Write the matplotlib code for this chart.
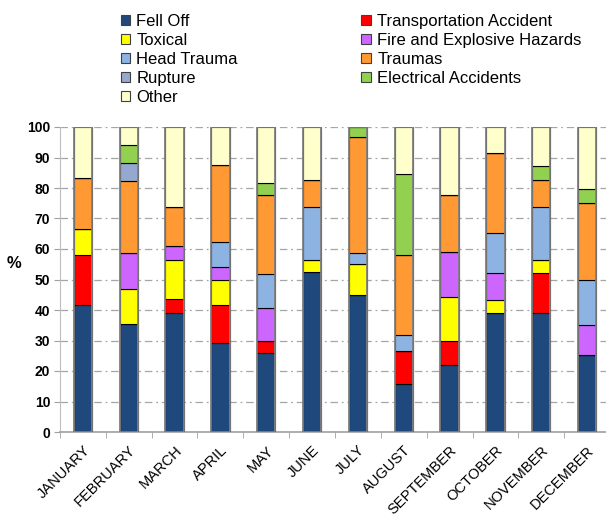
import numpy as np
import matplotlib
matplotlib.use('Agg')
import matplotlib.pyplot as plt
from matplotlib.patches import Patch

plt.rcParams['font.family'] = ['Liberation Sans', 'DejaVu Sans']

months = ['JANUARY', 'FEBRUARY', 'MARCH', 'APRIL', 'MAY', 'JUNE', 'JULY',
          'AUGUST', 'SEPTEMBER', 'OCTOBER', 'NOVEMBER', 'DECEMBER']

# share of each cause per month (%)
fell_off = [41.7, 35.5, 39.0, 29.3, 26.0, 52.3, 45.0, 15.8, 22.1, 39.0, 39.0, 25.1]
transport = [16.4, 0.0, 4.5, 12.4, 3.7, 0.0, 0.0, 10.6, 7.6, 0.0, 13.2, 0.0]
toxical = [8.5, 11.5, 13.0, 8.2, 0.0, 4.2, 10.2, 0.0, 14.7, 4.4, 4.3, 0.0]
fire = [0.0, 11.8, 4.4, 4.3, 11.1, 0.0, 0.0, 0.0, 14.7, 8.8, 0.0, 10.1]
head_trauma = [0.0, 0.0, 0.0, 8.2, 10.9, 17.4, 3.4, 5.3, 0.0, 13.2, 17.4, 14.7]
traumas = [16.8, 23.4, 13.0, 25.3, 26.1, 8.6, 38.0, 26.2, 18.7, 26.0, 8.6, 25.3]
rupture = [0.0, 6.0, 0.0, 0.0, 0.0, 0.0, 0.0, 0.0, 0.0, 0.0, 0.0, 0.0]
electrical = [0.0, 5.9, 0.0, 0.0, 3.9, 0.0, 3.4, 26.6, 0.0, 0.0, 4.6, 4.6]
other = [16.6, 5.9, 26.1, 12.3, 18.3, 17.5, 0.0, 15.5, 22.2, 8.6, 12.9, 20.2]

series = [
    ('Fell Off', fell_off, '#1f497d'),
    ('Transportation Accident', transport, '#ff0000'),
    ('Toxical', toxical, '#ffff00'),
    ('Fire and Explosive Hazards', fire, '#cc66ff'),
    ('Head Trauma', head_trauma, '#8db3e2'),
    ('Traumas', traumas, '#ff9933'),
    ('Rupture', rupture, '#95a8cf'),
    ('Electrical Accidents', electrical, '#92d050'),
    ('Other', other, '#ffffcc'),
]

fig = plt.figure(figsize=(6.06, 5.16), dpi=100)
ax = fig.add_axes([60 / 606, 84 / 516, 550 / 606, 305 / 516])

x = np.arange(len(months))
width = 0.4
bottom = np.zeros(len(months))
handles = {}
for name, vals, color in series:
    vals = np.array(vals)
    ax.bar(x, vals, width, bottom=bottom, color=color, edgecolor='black',
           linewidth=0.8, zorder=3)
    handles[name] = Patch(facecolor=color, edgecolor='#404040', linewidth=0.8)
    bottom += vals

# gray outline around each full column
ax.bar(x, bottom, width, facecolor='none', edgecolor='#808080', linewidth=1.3, zorder=4)

ax.set_xlim(-0.5, 11.5)
ax.set_ylim(0, 100)
ax.set_yticks(range(0, 101, 10))
ax.set_yticklabels([str(v) for v in range(0, 101, 10)], fontweight='bold', fontsize=10)
ax.set_xticks(x)
ax.set_xticklabels(months, rotation=45, ha='right', rotation_mode='anchor', fontsize=10.5)
ax.set_xticks(np.arange(-0.5, 12, 1), minor=True)
ax.tick_params(axis='x', which='major', length=0, pad=8)
ax.tick_params(axis='x', which='minor', length=4, color='#a0a0a0', direction='out')
ax.tick_params(axis='y', length=4, color='#a0a0a0', direction='out', pad=3)

for sp in ['top', 'right']:
    ax.spines[sp].set_visible(False)
ax.spines['left'].set_color('#bfbfbf')
ax.spines['bottom'].set_color('#a0a0a0')
ax.spines['bottom'].set_linewidth(1.2)

ax.yaxis.grid(True, linestyle=(0, (6, 3, 1.5, 3)), color='#a6a6a6', linewidth=0.9, zorder=0)
ax.set_axisbelow(True)

fig.text(14 / 606, 1 - 263 / 516, '%', fontsize=12, fontweight='bold', ha='center', va='center')

order = ['Fell Off', 'Toxical', 'Head Trauma', 'Rupture', 'Other',
         'Transportation Accident', 'Fire and Explosive Hazards', 'Traumas', 'Electrical Accidents']
leg = fig.legend([handles[n] for n in order], order, ncol=2, loc='upper left',
                 bbox_to_anchor=(109 / 606, 1 - 2 / 516), frameon=False, fontsize=12,
                 handlelength=0.55, handleheight=0.55, handletextpad=0.4,
                 labelspacing=0.25, columnspacing=7.4, borderpad=0.2)

fig.savefig('out.png', dpi=100)
